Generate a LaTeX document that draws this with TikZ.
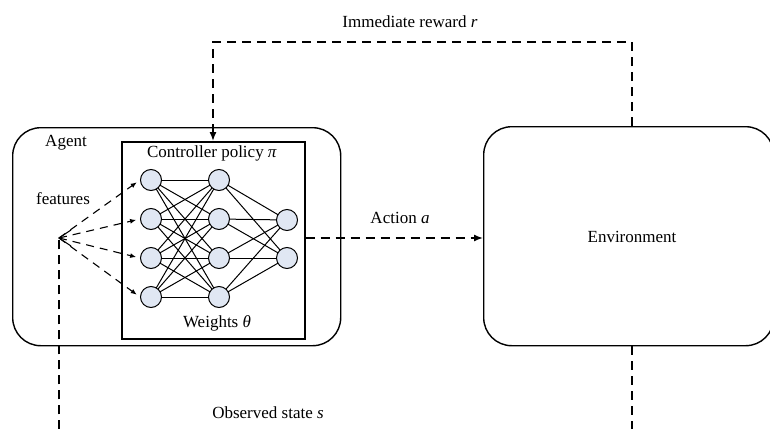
\documentclass[tikz,border=0pt]{standalone}
\usepackage{fontspec}
\setmainfont{Liberation Serif}
\usetikzlibrary{arrows.meta,calc}
\definecolor{nfill}{RGB}{224,231,243}
\begin{document}
\begin{tikzpicture}[x=1pt,y=-1pt,
  lbl/.style={font=\fontsize{17}{20}\selectfont, inner sep=0pt},
  rbox/.style={draw, line width=1.4pt, rounded corners=28pt, inner sep=0pt},
  sbox/.style={draw, line width=1.5pt, inner sep=0pt},
  neuron/.style={circle, draw, line width=1pt, fill=nfill, minimum size=21pt, inner sep=0pt},
  link/.style={line width=1pt},
  flow/.style={line width=1.4pt, dash pattern=on 9pt off 6pt},
  feat/.style={line width=1.1pt, dash pattern=on 8pt off 6pt},
  headbig/.style={-{Latex[length=9pt,width=7pt]}},
  headsmall/.style={-{Latex[length=6pt,width=5pt]}},
]
\useasboundingbox (0,0) rectangle (770,428);
\clip (0,0) rectangle (770,428);

% Boxes
\node[rbox, minimum width=328pt, minimum height=218pt, anchor=north west] (agent) at (12,127) {};
\node[sbox, minimum width=183pt, minimum height=197pt, anchor=north west] (ctrl) at (121,141) {};
\node[rbox, minimum width=290pt, minimum height=219pt, anchor=north west] (env) at (483,126) {};

% Labels
\node[lbl] (agentlbl) at (66,143) {Agent};
\node[lbl] (featlbl) at (63,199) {features};
\node[lbl] (ctrllbl) at (212,153) {Controller policy \textit{π}};
\node[lbl] (wlbl) at (217,323) {Weights \textit{θ}};
\node[lbl] (envlbl) at (632,237) {Environment};
\node[lbl] (rlbl) at (410,22) {Immediate reward \textit{r}};
\node[lbl] (albl) at (400,218) {Action \textit{a}};
\node[lbl] (slbl) at (268,413) {Observed state \textit{s}};

% Network: fully connected layers
\foreach \i/\y in {1/180,2/219,3/258,4/297} {
  \coordinate (in\i) at (151,\y);
  \coordinate (hd\i) at (219,\y);
}
\coordinate (out1) at (287,220);
\coordinate (out2) at (287,258);
\foreach \i in {1,...,4} {
  \foreach \j in {1,...,4} {
    \draw[link] (in\i) -- (hd\j);
  }
  \foreach \j in {1,2} {
    \draw[link] (hd\i) -- (out\j);
  }
}
\foreach \i in {1,...,4} {
  \node[neuron] (nin\i) at (in\i) {};
  \node[neuron] (nhd\i) at (hd\i) {};
}
\node[neuron] (nout1) at (out1) {};
\node[neuron] (nout2) at (out2) {};

% Connectors
\coordinate (rr) at (632,42);
\coordinate (rl) at (213,42);
\draw[flow, headbig] (rr |- env.north) -- (rr) -- (rl) -- (rl |- ctrl.north);

\coordinate (aout) at (304,238);
\draw[flow, headbig] (ctrl.east |- aout) -- (env.west |- aout);

\coordinate (fp) at (59,238);
\draw[flow] (rr |- env.south) -- ++(0,100) -| (fp);
\draw[line width=1pt] ($(fp)+(12,-8)$) -- (fp) -- ($(fp)+(12,8)$);
\foreach \i in {1,...,4} {
  \draw[feat, headsmall, shorten >=4pt] (fp) -- (nin\i.west);
}
\end{tikzpicture}
\end{document}
